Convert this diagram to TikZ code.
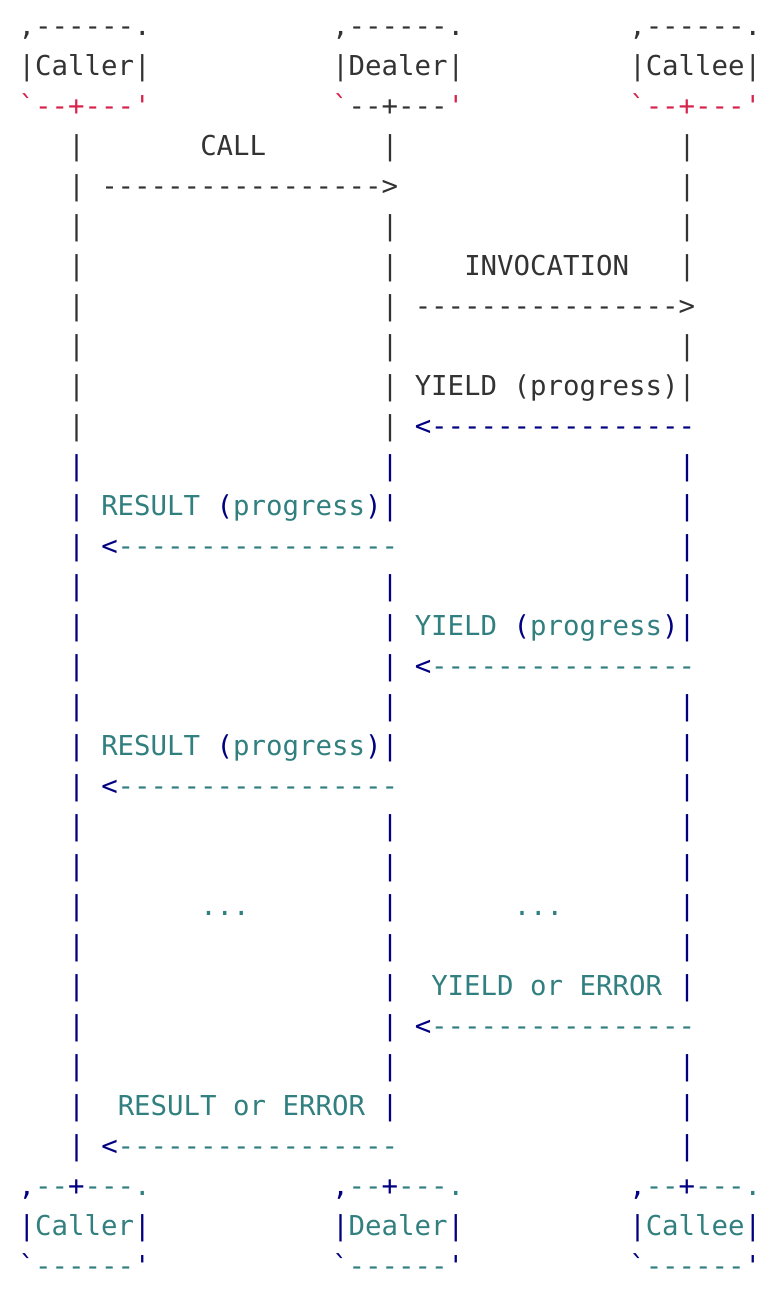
\documentclass[tikz,border=0pt]{standalone}
\usepackage{fontspec}
\setmonofont{DejaVu Sans Mono}

\definecolor{cInk}{HTML}{333333}
\definecolor{cRed}{HTML}{D6244C}
\definecolor{cNavy}{HTML}{000080}
\definecolor{cTeal}{HTML}{327F7F}

\newcommand\redt[1]{\textcolor{cRed}{#1}}
\newcommand\navt[1]{\textcolor{cNavy}{#1}}
\newcommand\tealt[1]{\textcolor{cTeal}{#1}}

\tikzset{
  ascii/.style={anchor=base west, inner sep=0pt, outer sep=0pt, text=cInk,
    font=\ttfamily\fontsize{13.7pt}{20pt}\selectfont}
}

\begin{document}
\begin{tikzpicture}[x=8.25pt, y=-20pt]
    \useasboundingbox (0pt,0pt) rectangle (391pt,-646pt);
    \begin{scope}[xshift=9.375pt, yshift=-17.5pt]
    % 顶部三个方框
    \node[ascii] (callerT1) at (0,0) {,------.};
    \node[ascii] (callerT2) at (0,1) {|Caller|};
    \node[ascii] (callerT3) at (0,2) {\redt{`--+---'}};
    \node[ascii] (dealerT1) at (19,0) {,------.};
    \node[ascii] (dealerT2) at (19,1) {|Dealer|};
    \node[ascii] (dealerT3) at (19,2) {\redt{`}--+---\redt{'}};
    \node[ascii] (calleeT1) at (37,0) {,------.};
    \node[ascii] (calleeT2) at (37,1) {|Callee|};
    \node[ascii] (calleeT3) at (37,2) {\redt{`--+---'}};

    % 三条生命线
    \foreach \r in {3,...,28}{
        \ifnum\r<11 \def\lc{cInk}\else\def\lc{cNavy}\fi
        \node[ascii, text=\lc] (callerL\r) at (3,\r) {|};
    }
    \foreach \r in {3,5,6,...,12,14,15,...,18,20,21,...,27}{
        \ifnum\r<11 \def\lc{cInk}\else\def\lc{cNavy}\fi
        \node[ascii, text=\lc] (dealerL\r) at (22,\r) {|};
    }
    \foreach \r in {3,...,6,8,9,11,12,...,15,17,18,...,24,26,27,28}{
        \ifnum\r<11 \def\lc{cInk}\else\def\lc{cNavy}\fi
        \node[ascii, text=\lc] (calleeL\r) at (40,\r) {|};
    }

    % 消息
    \node[ascii] (callLbl) at (11,3) {CALL};
    \node[ascii] (callArr) at (5,4) {----------------->};
    \node[ascii] (invLbl) at (27,6) {INVOCATION};
    \node[ascii] (invArr) at (24,7) {---------------->};
    \node[ascii] (yieldLbl1) at (24,9) {YIELD (progress)};
    \node[ascii] (yieldArr1) at (24,10) {\navt{<----------------}};
    \node[ascii] (resultLbl1) at (5,12) {\tealt{RESULT} \navt{(}\tealt{progress}\navt{)}};
    \node[ascii] (resultArr1) at (5,13) {\navt{<}\tealt{-----------------}};
    \node[ascii] (yieldLbl2) at (24,15) {\tealt{YIELD} \navt{(}\tealt{progress}\navt{)}};
    \node[ascii] (yieldArr2) at (24,16) {\navt{<}\tealt{----------------}};
    \node[ascii] (resultLbl2) at (5,18) {\tealt{RESULT} \navt{(}\tealt{progress}\navt{)}};
    \node[ascii] (resultArr2) at (5,19) {\navt{<}\tealt{-----------------}};
    \node[ascii, text=cTeal] (dotsL) at (11,22) {...};
    \node[ascii, text=cTeal] (dotsR) at (30,22) {...};
    \node[ascii, text=cTeal] (yieldLbl3) at (25,24) {YIELD or ERROR};
    \node[ascii] (yieldArr3) at (24,25) {\navt{<}\tealt{----------------}};
    \node[ascii, text=cTeal] (resultLbl3) at (6,27) {RESULT or ERROR};
    \node[ascii] (resultArr3) at (5,28) {\navt{<}\tealt{-----------------}};

    % 底部三个方框
    \node[ascii] (callerB1) at (0,29) {\navt{,}\tealt{--}\navt{+}\tealt{---.}};
    \node[ascii] (callerB2) at (0,30) {\navt{|}\tealt{Caller}\navt{|}};
    \node[ascii] (callerB3) at (0,31) {\navt{`}\tealt{------}\navt{'}};
    \node[ascii] (dealerB1) at (19,29) {\navt{,}\tealt{--}\navt{+}\tealt{---.}};
    \node[ascii] (dealerB2) at (19,30) {\navt{|}\tealt{Dealer}\navt{|}};
    \node[ascii] (dealerB3) at (19,31) {\navt{`}\tealt{------}\navt{'}};
    \node[ascii] (calleeB1) at (37,29) {\navt{,}\tealt{--}\navt{+}\tealt{---.}};
    \node[ascii] (calleeB2) at (37,30) {\navt{|}\tealt{Callee}\navt{|}};
    \node[ascii] (calleeB3) at (37,31) {\navt{`}\tealt{------}\navt{'}};
    \end{scope}
\end{tikzpicture}
\end{document}
